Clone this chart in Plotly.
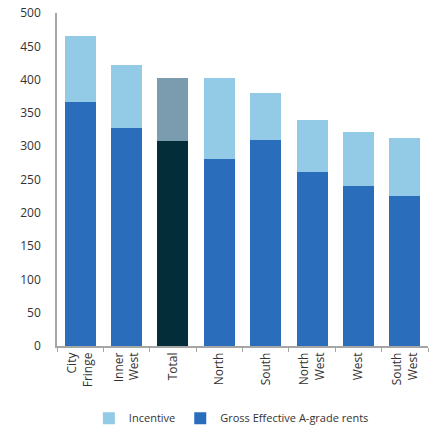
import plotly.graph_objects as go

categories = ["City<br>Fringe", "Inner<br>West", "Total", "North", "South", "North<br>West", "West", "South<br>West"]
gross = [366, 327, 308, 281, 309, 262, 240, 225]
total = [465, 422, 402, 402, 380, 339, 321, 312]
incentive = [t - g for t, g in zip(total, gross)]

gross_colors = ["#2A6EBB" if c != "Total" else "#032D38" for c in categories]
inc_colors = ["#93CAE6" if c != "Total" else "#7B9BAE" for c in categories]

fig = go.Figure()
fig.add_trace(go.Bar(x=categories, y=gross, name="Gross Effective A-grade rents",
                     marker=dict(color=gross_colors, line=dict(width=0))))
fig.add_trace(go.Bar(x=categories, y=incentive, name="Incentive",
                     marker=dict(color=inc_colors, line=dict(width=0))))

fig.update_layout(
    width=433, height=428,
    barmode="stack", bargap=0.33,
    plot_bgcolor="white", paper_bgcolor="white",
    margin=dict(l=57, r=5, t=13, b=82),
    font=dict(family="Open Sans, sans-serif", size=12, color="#333333"),
    showlegend=True,
    legend=dict(orientation="h", x=0.47, xanchor="center", yref="container",
                y=0.023, yanchor="middle",
                traceorder="reversed", font=dict(size=11, color="#333333"),
                itemwidth=30),
    yaxis=dict(range=[0, 500], dtick=50, showgrid=False, showline=True,
               linecolor="#A6A6A6", linewidth=1.5, ticks="", ticklabelstandoff=12,
               zeroline=False, automargin=False),
    xaxis=dict(showline=True, linecolor="#A6A6A6", linewidth=1.5, ticks="outside",
               tickson="boundaries", ticklen=4, tickcolor="#A6A6A6", tickangle=-90,
               showgrid=False, automargin=False),
)

fig.write_html("out.html")
